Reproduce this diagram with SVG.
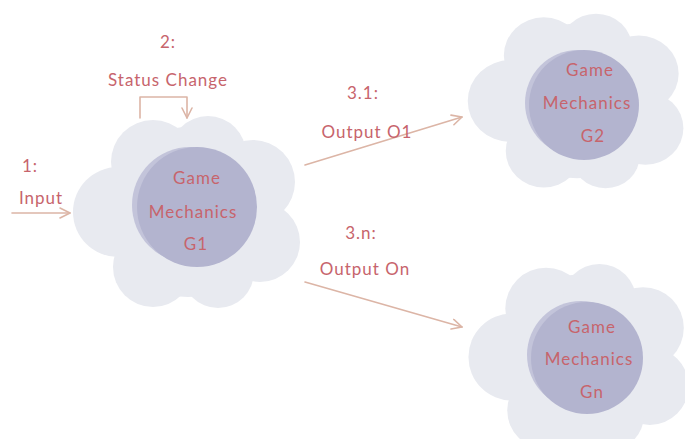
<svg xmlns="http://www.w3.org/2000/svg" width="685" height="439" viewBox="0 0 685 439">
  <style>
    .puff { fill: #e8eaf0; }
    .core { fill: #b3b4cf; }
    .halo { fill: #c3c4da; }
    .lbl { font-family: Lato, "Open Sans", sans-serif; font-size: 17px; fill: #c7646c; text-anchor: middle; letter-spacing: 1px; }
    .wire { fill: none; stroke: #dcb5a6; stroke-width: 1.6; stroke-linecap: round; stroke-linejoin: round; }
  </style>
  <defs>
    <!-- cloud outline made of overlapping puffs, centred on (0,0) -->
    <g id="cloud">
      <circle class="puff" cx="0" cy="0" r="85"/>
      <circle class="puff" cx="-70" cy="0" r="45"/>
      <circle class="puff" cx="-35" cy="-50" r="42"/>
      <circle class="puff" cx="20" cy="-58" r="38"/>
      <circle class="puff" cx="65" cy="-30" r="42"/>
      <circle class="puff" cx="72" cy="30" r="40"/>
      <circle class="puff" cx="30" cy="60" r="36"/>
      <circle class="puff" cx="-35" cy="55" r="40"/>
    </g>
    <marker id="open" viewBox="0 0 12 12" refX="11" refY="6" markerWidth="12" markerHeight="12" markerUnits="userSpaceOnUse" orient="auto">
      <path d="M1,1 L11,6 L1,11" fill="none" stroke="#dcb5a6" stroke-width="1.6" stroke-linecap="round" stroke-linejoin="round"/>
    </marker>
  </defs>

  <rect width="685" height="439" fill="#ffffff"/>

  <!-- Game Mechanics G1 -->
  <g id="g1">
    <use href="#cloud" transform="translate(188,212)"/>
    <circle class="halo" cx="190" cy="205" r="58"/>
    <circle class="core" cx="197" cy="207" r="60"/>
    <text class="lbl" x="197" y="184">Game</text>
    <text class="lbl" x="193" y="218">Mechanics</text>
    <text class="lbl" x="196" y="250">G1</text>
  </g>

  <!-- Game Mechanics G2 -->
  <g id="g2">
    <use href="#cloud" transform="translate(577,101) scale(0.95,0.91)"/>
    <circle class="halo" cx="578" cy="103" r="53"/>
    <circle class="core" cx="584" cy="105" r="55"/>
    <text class="lbl" x="590" y="76">Game</text>
    <text class="lbl" x="587" y="109">Mechanics</text>
    <text class="lbl" x="593" y="142">G2</text>
  </g>

  <!-- Game Mechanics Gn -->
  <g id="gn">
    <use href="#cloud" transform="translate(580,357) scale(0.97,0.97)"/>
    <circle class="halo" cx="581" cy="355" r="54"/>
    <circle class="core" cx="587" cy="358" r="56"/>
    <text class="lbl" x="592" y="333">Game</text>
    <text class="lbl" x="589" y="365">Mechanics</text>
    <text class="lbl" x="592" y="398">Gn</text>
  </g>

  <!-- connectors -->
  <g id="connectors">
    <path class="wire" d="M12,213 L70,213" marker-end="url(#open)"/>
    <path class="wire" d="M140,118 L140,97 L187,97 L187,118" marker-end="url(#open)"/>
    <path class="wire" d="M305,165 L462,117" marker-end="url(#open)"/>
    <path class="wire" d="M305,282 L462,327" marker-end="url(#open)"/>
  </g>

  <!-- connector labels -->
  <g id="labels">
    <text class="lbl" x="30" y="172">1:</text>
    <text class="lbl" x="41" y="204">Input</text>
    <text class="lbl" x="168" y="48">2:</text>
    <text class="lbl" x="168" y="86">Status Change</text>
    <text class="lbl" x="363" y="99">3.1:</text>
    <text class="lbl" x="367" y="138">Output O1</text>
    <text class="lbl" x="361" y="239">3.n:</text>
    <text class="lbl" x="365" y="275">Output On</text>
  </g>
</svg>
